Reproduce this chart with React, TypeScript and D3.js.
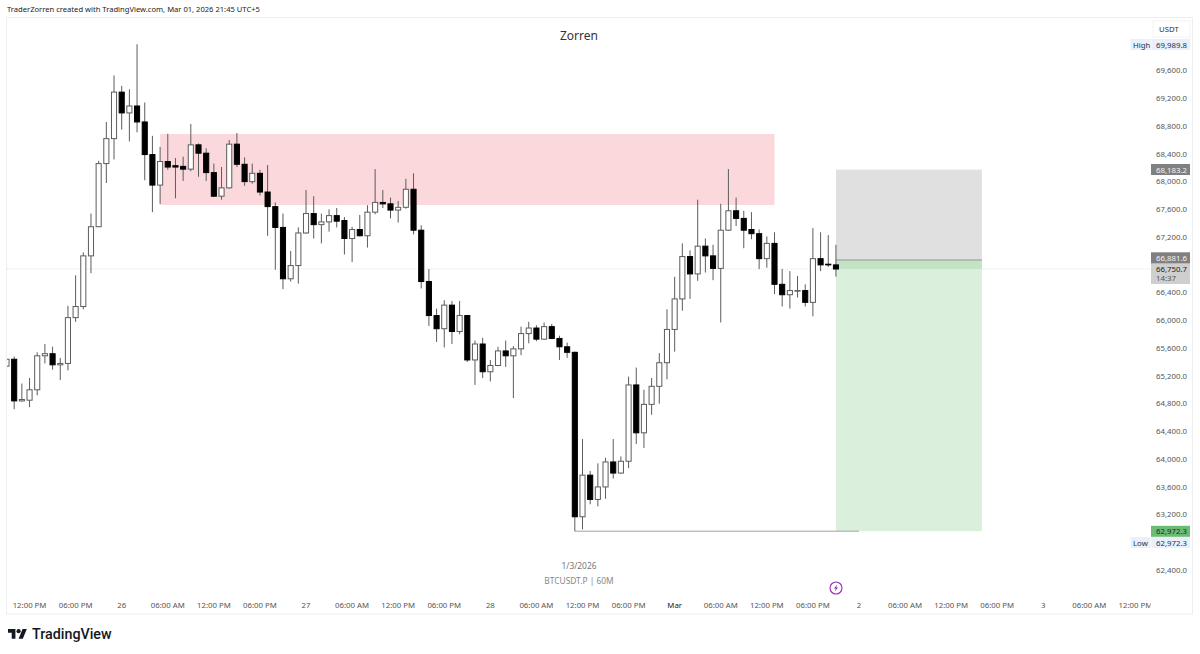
import { useEffect, useRef } from "react";
import * as d3 from "d3";

// BTCUSDT.P 60M candles, one entry per bar
const opens = [65350,65450,64850,64860,65010,65500,65530,65370,65390,66050,66210,66940,67360,68270,68630,69300,69000,69100,68870,68400,67960,68300,68240,68230,68190,68540,68420,68140,67800,67920,68550,68260,68010,68130,67860,67650,67350,66610,66800,67270,67550,67390,67430,67520,67450,67190,67320,67230,67570,67710,67690,67600,67640,67900,67310,66570,66080,65890,66230,65850,66080,65440,65670,65270,65360,65570,65500,65600,65820,65900,65740,65920,65750,65630,65550,63180,63780,63430,63610,63970,63810,63980,65080,64390,64800,65060,65400,65880,66320,66930,66680,67080,66940,66760,67310,67590,67480,67320,67260,66900,67120,66530,66380,66440,66440,66270,66900,66820,66810];
const highs = [65670,65490,65100,65180,65550,65670,65630,65470,66220,66660,66990,67550,68310,68870,69540,69390,69340,69990,69150,68670,68510,68700,68350,68370,68840,68560,68490,68270,68220,68610,68710,68360,68270,68180,68250,67710,67550,67010,67350,67890,67800,67550,67610,67630,67500,67360,67530,67670,68190,67890,67780,67730,68050,68130,67380,66750,66180,66300,66290,66290,66090,65720,65760,65440,65630,65720,65640,65920,65990,65940,65980,65960,65790,65690,65560,64300,63840,63950,64030,64300,64050,65200,65330,65010,65180,65540,66170,66640,67120,67020,67750,67190,67100,67690,68190,67780,67590,67570,67320,67220,67280,66750,66720,66650,66530,67340,67280,67240,67100];
const lows = [65090,64730,64840,64760,64930,65390,65300,65150,65290,65990,66170,66690,67360,67990,68330,68760,68590,68720,68030,67570,67690,68180,67770,68020,68160,68080,68020,67790,67750,67910,68220,67950,67980,67810,67230,66740,66460,66570,66540,67260,67190,67120,67290,67350,66960,66850,67220,67060,67540,67630,67480,67420,67620,67250,66470,65930,65700,65620,65670,65810,65410,65080,65180,65130,65350,65340,64890,65510,65680,65710,65730,65740,65440,65470,62972.3,63000,63360,63330,63440,63730,63800,63880,64230,64170,64650,64810,65160,65560,66150,66320,66580,66700,66590,65980,67300,67370,67050,67180,66750,66770,66390,66210,66180,66340,66210,66070,66720,66780,66640];
const closes = [65450,64850,64870,65010,65500,65530,65370,65390,66050,66210,66940,67360,68270,68630,69300,69000,69100,68870,68400,67960,68300,68220,68220,68190,68540,68420,68140,67800,67920,68550,68260,68010,68130,67860,67650,67350,66610,66800,67270,67550,67390,67430,67520,67440,67190,67320,67230,67570,67710,67690,67600,67640,67900,67310,66570,66080,65890,66230,65850,66080,65440,65670,65270,65360,65570,65500,65600,65820,65900,65740,65920,65750,65630,65550,63180,63780,63430,63610,63970,63810,63980,65080,64390,64800,65060,65400,65880,66320,66930,66680,67080,66940,66760,67310,67590,67480,67310,67260,66900,67120,66530,66380,66440,66440,66270,66900,66810,66810,66750.7];

const priceTicks = [69600,69200,68800,68400,68000,67600,67200,66400,66000,65600,65200,64800,64400,64000,63600,63200,62400];
const timeTicks: [number, string][] = [
  [3,"12:00 PM"],[9,"06:00 PM"],[15,"26"],[21,"06:00 AM"],[27,"12:00 PM"],[33,"06:00 PM"],[39,"27"],
  [45,"06:00 AM"],[51,"12:00 PM"],[57,"06:00 PM"],[63,"28"],[69,"06:00 AM"],[75,"12:00 PM"],[81,"06:00 PM"],
  [87,"Mar"],[93,"06:00 AM"],[99,"12:00 PM"],[105,"06:00 PM"],[111,"2"],[117,"06:00 AM"],[123,"12:00 PM"],
  [129,"06:00 PM"],[135,"3"],[141,"06:00 AM"],[147,"12:00 PM"],
];

const highPrice = 69989.8;
const lowPrice = 62972.3;
const lastPrice = 66750.7;
const entryPrice = 66881.6;
const stopPrice = 68183.2;
const targetPrice = 62972.3;
const zoneTop = 68696;
const zoneBottom = 67673;

const FONT = "'Noto Sans', sans-serif";
const fmt = d3.format(",.1f");

export default function App() {
  const ref = useRef<SVGSVGElement>(null);

  useEffect(() => {
    const svg = d3.select(ref.current);
    svg.selectAll("*").remove();

    const x = d3.scaleLinear().domain([0, 108]).range([6.5, 835.94]);
    const y = d3.scaleLinear().domain([62400, 69600]).range([570.9, 71.3]);
    const band = 5.1;

    const text = (g: any, tx: number, ty: number, s: string, size: number, fill: string, anchor = "start", weight = 400, family = FONT) =>
      g.append("text")
        .attr("x", tx)
        .attr("y", ty)
        .attr("font-size", size)
        .attr("font-family", family)
        .attr("font-weight", weight)
        .attr("fill", fill)
        .attr("text-anchor", anchor)
        .text(s);

    // header
    text(svg, 7, 12, "TraderZorren created with TradingView.com, Mar 01, 2026 21:45 UTC+5", 7.6, "#222");

    // pane frame
    svg.append("rect").attr("x", 6.5).attr("y", 17.5).attr("width", 1186).attr("height", 596.5)
      .attr("fill", "#fff").attr("stroke", "#eeeeee");

    const defs = svg.append("defs");
    defs.append("clipPath").attr("id", "pane").append("rect")
      .attr("x", 7).attr("y", 18).attr("width", 1143).attr("height", 596);
    defs.append("clipPath").attr("id", "timeclip").append("rect")
      .attr("x", 7).attr("y", 590).attr("width", 1143.5).attr("height", 24);

    // last price line, under everything else
    svg.append("line").attr("x1", 7).attr("x2", 1150).attr("y1", y(lastPrice)).attr("y2", y(lastPrice))
      .attr("stroke", "#e4e4e4").attr("stroke-dasharray", "1 1");

    const pane = svg.append("g").attr("clip-path", "url(#pane)");

    // supply zone + long position tool
    pane.append("rect").attr("x", x(20)).attr("y", y(zoneTop)).attr("width", x(100) - x(20))
      .attr("height", y(zoneBottom) - y(zoneTop)).attr("fill", "#fbd8dc");
    pane.append("rect").attr("x", x(108)).attr("y", y(stopPrice)).attr("width", x(127) - x(108))
      .attr("height", y(entryPrice) - y(stopPrice)).attr("fill", "#e0e0e0");
    pane.append("rect").attr("x", x(108)).attr("y", y(entryPrice)).attr("width", x(127) - x(108))
      .attr("height", y(targetPrice) - y(entryPrice)).attr("fill", "#daefdc");
    pane.append("rect").attr("x", x(108)).attr("y", y(entryPrice)).attr("width", x(127) - x(108))
      .attr("height", y(lastPrice) - y(entryPrice)).attr("fill", "#c2e4c4");
    pane.append("line").attr("x1", x(108)).attr("x2", x(127)).attr("y1", y(entryPrice)).attr("y2", y(entryPrice))
      .attr("stroke", "#a8aea8").attr("stroke-width", 1.4);

    // low pointer
    pane.append("line").attr("x1", x(74)).attr("x2", x(111)).attr("y1", y(lowPrice)).attr("y2", y(lowPrice))
      .attr("stroke", "#a3a3a3");

    // candles
    const idx = d3.range(opens.length);
    const up = (i: number) => closes[i] >= opens[i];
    const bars = pane.append("g");
    bars.selectAll("line.wick").data(idx).join("line")
      .attr("class", "wick")
      .attr("x1", (i) => x(i)).attr("x2", (i) => x(i))
      .attr("y1", (i) => y(highs[i])).attr("y2", (i) => y(lows[i]))
      .attr("stroke", "#5c5c5c");
    bars.selectAll("rect.body").data(idx).join("rect")
      .attr("class", "body")
      .attr("x", (i) => x(i) - band / 2)
      .attr("width", band)
      .attr("y", (i) => y(Math.max(opens[i], closes[i])))
      .attr("height", (i) => Math.max(0.6, Math.abs(y(opens[i]) - y(closes[i]))))
      .attr("fill", (i) => (up(i) ? "#fff" : "#000"))
      .attr("stroke", (i) => (up(i) ? "#5c5c5c" : "#000"));

    // price axis
    const axis = d3.axisRight(y).tickValues(priceTicks).tickSize(0).tickPadding(0).tickFormat((d) => fmt(d as number));
    const axisG = svg.append("g").attr("transform", "translate(1187,-1)").call(axis);
    axisG.select(".domain").remove();
    axisG.selectAll("text").attr("font-size", 7.8).attr("font-family", FONT).attr("fill", "#555")
      .attr("text-anchor", "end").attr("x", 0);

    // time axis
    const timeG = svg.append("g").attr("clip-path", "url(#timeclip)");
    timeTicks.forEach(([i, s]) => {
      const t = text(timeG, x(i), 608, s, 7.8, "#555", "middle");
      if (s === "Mar") t.attr("fill", "#222");
    });

    // price axis labels
    const labels = svg.append("g");
    labels.append("rect").attr("x", 1153).attr("y", 21).attr("width", 37).attr("height", 16)
      .attr("fill", "#fff").attr("stroke", "#f3f3f3");
    text(labels, 1159, 32, "USDT", 7.8, "#333");

    const pill = (price: number, word: string, cy: number) => {
      labels.append("rect").attr("x", 1130.5).attr("y", cy - 5.5).attr("width", 59.5).attr("height", 11).attr("fill", "#e9f0fb");
      labels.append("rect").attr("x", 1150.5).attr("y", cy - 5.5).attr("width", 0.8).attr("height", 11).attr("fill", "#fff");
      text(labels, 1133, cy + 3, word, 7.8, "#24344f");
      text(labels, 1187, cy + 3, fmt(price), 7.8, "#24344f", "end");
    };
    pill(highPrice, "High", 44.5);
    pill(lowPrice, "Low", 542.5);

    const tag = (price: number, cy: number, bg: string, fg: string) => {
      labels.append("rect").attr("x", 1151).attr("y", cy - 5.5).attr("width", 39).attr("height", 11).attr("fill", bg);
      text(labels, 1187, cy + 3, fmt(price), 7.8, fg, "end");
    };
    tag(stopPrice, 169.5, "#808080", "#f4f4f4");
    labels.append("rect").attr("x", 1151).attr("y", 263).attr("width", 39).attr("height", 21).attr("fill", "#cfcfcf");
    tag(entryPrice, 257.8, "#808080", "#f4f4f4");
    text(labels, 1187, 272, fmt(lastPrice), 7.8, "#222", "end");
    text(labels, 1156, 281, "14:37", 7.8, "#555");
    tag(targetPrice, 531.3, "#6dbb74", "#12301a");

    // center texts
    text(svg, 579, 40, "Zorren", 12, "#333", "middle");
    text(svg, 579, 569, "1/3/2026", 8.4, "#777", "middle");
    text(svg, 579, 584, "BTCUSDT.P | 60M", 8.4, "#888", "middle");

    // bolt marker
    const bolt = svg.append("g").attr("transform", "translate(836,588)");
    bolt.append("circle").attr("r", 6).attr("fill", "#fff").attr("stroke", "#9c27b0").attr("stroke-width", 1.1);
    bolt.append("path").attr("d", "M1.2 -3.6L-2 0.6H-0.2L-1.2 3.6L2 -0.6H0.2Z").attr("fill", "#9c27b0");

    // footer logo
    const logo = svg.append("g").attr("transform", "translate(8,627) scale(0.53)").attr("fill", "#131722");
    logo.append("path").attr("d", "M14 22H7V11H0V4h14v18zM28 22h-8l7.5-18h8L28 22z");
    logo.append("circle").attr("cx", 20).attr("cy", 8).attr("r", 4);
    text(svg, 32, 639, "TradingView", 14.3, "#131722", "start", 500, "Roboto, sans-serif");
  }, []);

  return <svg ref={ref} width={1200} height={654} style={{ position: "absolute", left: 0, top: 0, display: "block", background: "#fff" }} />;
}
